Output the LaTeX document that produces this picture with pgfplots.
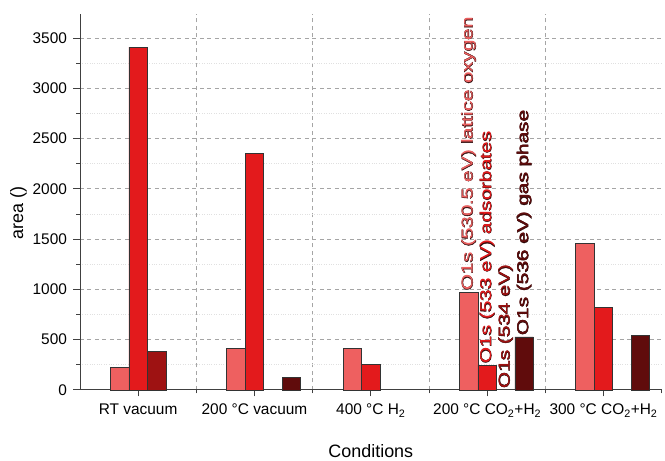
\documentclass[border=0pt]{standalone}
\usepackage{pgfplots}
\pgfplotsset{compat=1.18}
\usepackage{fontspec}
\setmainfont{Liberation Sans}
\newfontfamily\peakfont[FakeStretch=1.32]{Liberation Sans}
\newfontfamily\peakfontbold[FakeStretch=1.32, FakeBold=2.4]{Liberation Sans}

\definecolor{lattice}{RGB}{238,96,96}
\definecolor{adsorb}{RGB}{227,26,28}
\definecolor{peakA}{RGB}{158,18,18}
\definecolor{gasph}{RGB}{96,12,12}
\definecolor{gridgray}{RGB}{165,165,165}
\definecolor{outline}{RGB}{45,8,8}

% outlined peak label: dark stroked layer under a layer in the series colour
\newcommand{\peaklabel}[3]{%
  \node[text=outline, font=\peakfontbold\fontsize{15.8}{18}\selectfont] at (axis cs:#1) {#3};
  \node[text=#2, font=\peakfont\fontsize{15.8}{18}\selectfont] at (axis cs:#1) {#3};
}

\begin{document}
\begin{tikzpicture}
\begin{axis}[
  scale only axis,
  width=582bp, height=376bp,
  xmin=-0.5, xmax=4.5,
  ymin=0, ymax=3740,
  axis lines=left,
  axis line style={-, line width=0.8pt, black!75},
  tick align=outside,
  major tick length=6.5bp,
  minor tick length=3.5bp,
  tick style={line width=0.8pt, black!75},
  xtick={0,1,2,3,4},
  xticklabels={RT vacuum, 200 °C vacuum, 400 °C H\textsubscript{2}, 200 °C CO\textsubscript{2}+H\textsubscript{2}, 300 °C CO\textsubscript{2}+H\textsubscript{2}},
  minor xtick={0.5,1.5,2.5,3.5},
  extra x ticks={4.5},
  extra x tick labels={},
  extra x tick style={grid=none, major tick length=3.5bp},
  ytick={0,500,...,3500},
  minor ytick={250,750,...,3250},
  xmajorgrids=false, xminorgrids=true,
  ymajorgrids=true, yminorgrids=true,
  x grid style={gridgray, dash pattern=on 4bp off 3.5bp, line width=0.7pt},
  major y grid style={gridgray, dash pattern=on 4bp off 3.5bp, line width=0.7pt},
  minor y grid style={black!12, dotted, line width=0.6pt},
  /pgf/number format/assume math mode=true,
  /pgf/number format/set thousands separator={},
  ticklabel style={font=\fontsize{15.5}{18}\selectfont},
  xticklabel style={yshift=-4bp},
  yticklabel style={xshift=-3bp},
  xlabel={Conditions},
  ylabel={area ()},
  label style={font=\fontsize{18}{20}\selectfont},
  xlabel style={yshift=-10bp},
  ylabel style={at={(ticklabel cs:0.47)}, yshift=-1bp},
  ybar,
  bar width=0.159,
  every axis plot/.append style={draw=black!80, line width=0.6pt},
  clip=false,
]
\addplot[fill=lattice, bar shift=-0.159] coordinates {(0,225) (1,414) (2,414) (3,971) (4,1458)};
\addplot[fill=adsorb, bar shift=0] coordinates {(0,3410) (1,2350) (2,252) (3,245) (4,822)};
\addplot[fill=peakA, bar shift=0.159] coordinates {(0,380)};
\addplot[fill=gasph, bar shift=0.318] coordinates {(1,126) (3,527) (4,543)};

\begin{scope}[every node/.style={rotate=90, anchor=west, inner sep=1.5bp}]
\peaklabel{2.841,971}{lattice}{O1s (530.5 eV) lattice oxygen}
\peaklabel{3,245}{adsorb}{O1s (533 eV) adsorbates}
\peaklabel{3.159,0}{peakA}{O1s (534 eV)}
\peaklabel{3.318,527}{gasph}{O1s (536 eV) gas phase}
\end{scope}
% page margins around the plot area
\path (rel axis cs:0,1) ++(-80bp,14bp) coordinate (pageTL);
\path (pageTL) (rel axis cs:0,0) ++(0,-69bp);
\end{axis}
\end{tikzpicture}
\end{document}
